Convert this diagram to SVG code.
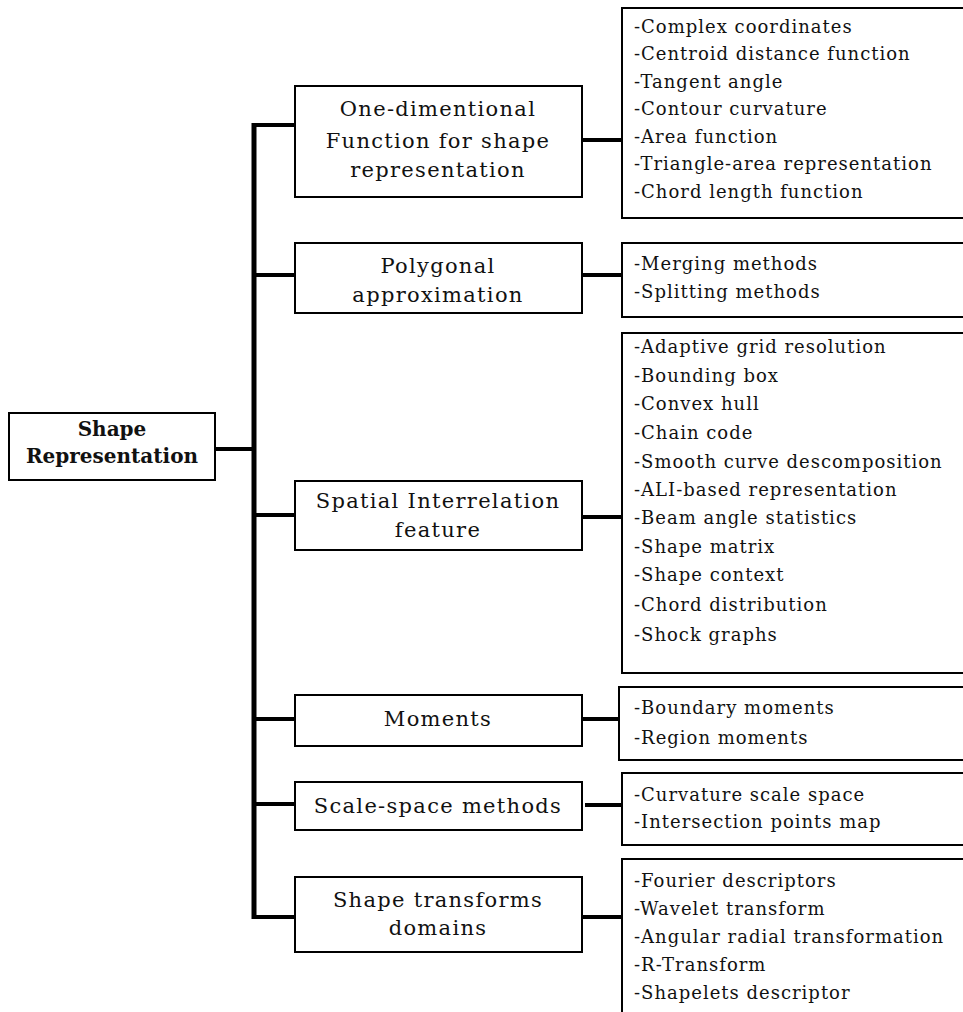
<svg xmlns="http://www.w3.org/2000/svg" width="963" height="1012" viewBox="0 0 963 1012">
<style>
.box{fill:#fff;stroke:#000;stroke-width:2}
.ln{stroke:#000;stroke-width:4;fill:none}
.bar{stroke:#000;stroke-width:5;fill:none}
.t{font-family:"DejaVu Serif","Liberation Serif",serif;font-size:21px;fill:#111;text-anchor:middle;letter-spacing:1.3px}
.r{font-family:"DejaVu Serif","Liberation Serif",serif;font-size:20px;font-weight:bold;fill:#111;text-anchor:middle}
.li{font-family:"DejaVu Serif","Liberation Serif",serif;font-size:18px;fill:#111;letter-spacing:1px}
</style>
<rect width="963" height="1012" fill="#fff"/>
<g id="connectors">
<line class="ln" x1="215" y1="449" x2="254" y2="449"/>
<line class="bar" x1="254" y1="123" x2="254" y2="919"/>
<line class="ln" x1="254" y1="125" x2="295" y2="125"/>
<line class="ln" x1="254" y1="275" x2="295" y2="275"/>
<line class="ln" x1="254" y1="515" x2="295" y2="515"/>
<line class="ln" x1="254" y1="719" x2="295" y2="719"/>
<line class="ln" x1="254" y1="804" x2="295" y2="804"/>
<line class="ln" x1="254" y1="917" x2="295" y2="917"/>
<line class="ln" x1="582" y1="140" x2="622" y2="140"/>
<line class="ln" x1="582" y1="275" x2="622" y2="275"/>
<line class="ln" x1="582" y1="517" x2="622" y2="517"/>
<line class="ln" x1="582" y1="719" x2="619" y2="719"/>
<line class="ln" x1="585" y1="805" x2="622" y2="805"/>
<line class="ln" x1="582" y1="917" x2="622" y2="917"/>
</g>
<g id="root">
<rect class="box" x="9" y="413" width="206" height="67"/>
<text class="r" x="112" y="436">Shape</text>
<text class="r" x="112" y="463">Representation</text>
</g>
<g id="n1">
<rect class="box" x="295" y="86" width="287" height="111"/>
<text class="t" x="438" y="116">One-dimentional</text>
<text class="t" x="438" y="148">Function for shape</text>
<text class="t" x="438" y="177">representation</text>
</g>
<g id="l1">
<rect class="box" x="622" y="8" width="344" height="210"/>
<text class="li" x="634" y="33">-Complex coordinates</text>
<text class="li" x="634" y="60">-Centroid distance function</text>
<text class="li" x="634" y="88">-Tangent angle</text>
<text class="li" x="634" y="115">-Contour curvature</text>
<text class="li" x="634" y="143">-Area function</text>
<text class="li" x="634" y="170">-Triangle-area representation</text>
<text class="li" x="634" y="198">-Chord length function</text>
</g>
<g id="n2">
<rect class="box" x="295" y="243" width="287" height="70"/>
<text class="t" x="438" y="273">Polygonal</text>
<text class="t" x="438" y="302">approximation</text>
</g>
<g id="l2">
<rect class="box" x="622" y="243" width="344" height="74"/>
<text class="li" x="634" y="270">-Merging methods</text>
<text class="li" x="634" y="298">-Splitting methods</text>
</g>
<g id="n3">
<rect class="box" x="295" y="481" width="287" height="69"/>
<text class="t" x="438" y="508">Spatial Interrelation</text>
<text class="t" x="438" y="537">feature</text>
</g>
<g id="l3">
<rect class="box" x="622" y="333" width="344" height="340"/>
<text class="li" x="634" y="353">-Adaptive grid resolution</text>
<text class="li" x="634" y="382">-Bounding box</text>
<text class="li" x="634" y="410">-Convex hull</text>
<text class="li" x="634" y="439">-Chain code</text>
<text class="li" x="634" y="468">-Smooth curve descomposition</text>
<text class="li" x="634" y="496">-ALI-based representation</text>
<text class="li" x="634" y="524">-Beam angle statistics</text>
<text class="li" x="634" y="553">-Shape matrix</text>
<text class="li" x="634" y="581">-Shape context</text>
<text class="li" x="634" y="611">-Chord distribution</text>
<text class="li" x="634" y="641">-Shock graphs</text>
</g>
<g id="n4">
<rect class="box" x="295" y="695" width="287" height="51"/>
<text class="t" x="438" y="726">Moments</text>
</g>
<g id="l4">
<rect class="box" x="619" y="687" width="347" height="73"/>
<text class="li" x="634" y="714">-Boundary moments</text>
<text class="li" x="634" y="744">-Region moments</text>
</g>
<g id="n5">
<rect class="box" x="295" y="782" width="287" height="48"/>
<text class="t" x="438" y="813">Scale-space methods</text>
</g>
<g id="l5">
<rect class="box" x="622" y="773" width="344" height="72"/>
<text class="li" x="634" y="801">-Curvature scale space</text>
<text class="li" x="634" y="828">-Intersection points map</text>
</g>
<g id="n6">
<rect class="box" x="295" y="877" width="287" height="75"/>
<text class="t" x="438" y="907">Shape transforms</text>
<text class="t" x="438" y="935">domains</text>
</g>
<g id="l6">
<rect class="box" x="622" y="859" width="344" height="160"/>
<text class="li" x="634" y="887">-Fourier descriptors</text>
<text class="li" x="634" y="915">-Wavelet transform</text>
<text class="li" x="634" y="943">-Angular radial transformation</text>
<text class="li" x="634" y="971">-R-Transform</text>
<text class="li" x="634" y="999">-Shapelets descriptor</text>
</g>
</svg>
